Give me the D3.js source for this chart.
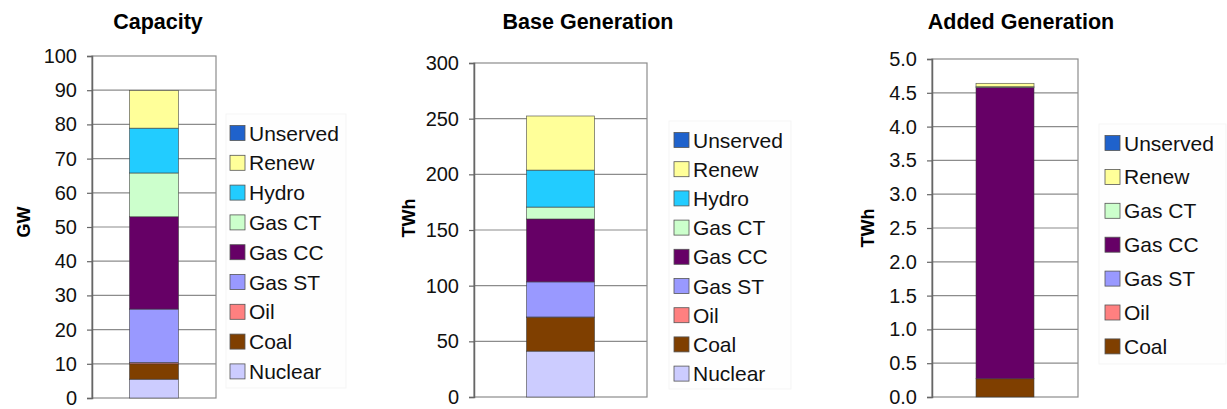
<!DOCTYPE html>
<html>
<head>
<meta charset="utf-8">
<script src="https://cdn.jsdelivr.net/npm/d3@7"></script>
<style>
  body { margin: 0; background: #fff; }
  text { font-family: "Liberation Sans", Arial, sans-serif; }
</style>
</head>
<body>
<svg id="chart" width="1227" height="409"></svg>
<script>
// stack order, bottom to top
var seriesNames = ["Nuclear", "Coal", "Oil", "Gas ST", "Gas CC", "Gas CT", "Hydro", "Renew", "Unserved"];
var seriesColors = ["#ccccff", "#7f3f00", "#ff8080", "#9999ff", "#660066", "#ccffcc", "#22ccff", "#ffff99", "#1f62cc"];

var capacityGW   = [5.5, 4.5, 0.4, 15.6, 27.0, 12.8, 13.1, 11.0, 0];
var baseGenTWh   = [41.2, 30.4, 0.3, 31.5, 56.5, 10.7, 33.2, 48.6, 0];
var addedGenTWh  = [0, 0.27, 0, 0, 4.31, 0.01, 0, 0.05, 0];

var capTicks   = [0, 10, 20, 30, 40, 50, 60, 70, 80, 90, 100];
var baseTicks  = [0, 50, 100, 150, 200, 250, 300];
var addedTicks = [0, 0.5, 1.0, 1.5, 2.0, 2.5, 3.0, 3.5, 4.0, 4.5, 5.0];

var legendFull  = ["Unserved", "Renew", "Hydro", "Gas CT", "Gas CC", "Gas ST", "Oil", "Coal", "Nuclear"];
var legendAdded = ["Unserved", "Renew", "Gas CT", "Gas CC", "Gas ST", "Oil", "Coal"];

var panels = [
  {title: "Capacity", unit: "GW", values: capacityGW, ticks: capTicks, fmt: d3.format("d"), legend: legendFull,
   x0: 92, x1: 216, y0: 56, y1: 398, barW: 49, titleX: 158, unitX: 24, unitY: 222,
   legX: 230, legY: 133, legStep: 29.8, box: [226, 114, 120, 274]},
  {title: "Base Generation", unit: "TWh", values: baseGenTWh, ticks: baseTicks, fmt: d3.format("d"), legend: legendFull,
   x0: 474, x1: 647, y0: 63, y1: 397, barW: 68, titleX: 588, unitX: 409, unitY: 218,
   legX: 674, legY: 140, legStep: 29.2, box: [669, 121, 122, 268]},
  {title: "Added Generation", unit: "TWh", values: addedGenTWh, ticks: addedTicks, fmt: d3.format(".1f"), legend: legendAdded,
   x0: 932, x1: 1078, y0: 59, y1: 397, barW: 58, titleX: 1021, unitX: 868, unitY: 228,
   legX: 1105, legY: 143, legStep: 33.9, box: [1099, 124, 127, 240]}
];

var svg = d3.select("#chart");

panels.forEach(function(p){
  var g = svg.append("g");
  var y = d3.scaleLinear()
    .domain([p.ticks[0], p.ticks[p.ticks.length - 1]])
    .range([p.y1, p.y0]);
  var x = d3.scaleBand().domain(["bar"]).range([p.x0, p.x1]).paddingInner(0)
    .paddingOuter((p.x1 - p.x0 - p.barW) / 2 / p.barW);

  // plot frame + gridlines
  g.append("rect")
    .attr("x", p.x0).attr("y", p.y0)
    .attr("width", p.x1 - p.x0).attr("height", p.y1 - p.y0)
    .attr("fill", "#fff").attr("stroke", "#8c8c8c").attr("stroke-width", 1.2);

  g.selectAll(".grid").data(p.ticks.slice(1, -1)).enter().append("line")
    .attr("x1", p.x0).attr("x2", p.x1)
    .attr("y1", function(d){ return y(d); }).attr("y2", function(d){ return y(d); })
    .attr("stroke", "#8c8c8c").attr("stroke-width", 1.2);

  // stacked bar
  var stackData = {};
  seriesNames.forEach(function(s, i){ stackData[s] = p.values[i]; });
  var stacked = d3.stack().keys(seriesNames)([stackData]);

  g.selectAll(".seg").data(stacked.filter(function(s){ return s[0][1] - s[0][0] > 0; }))
    .enter().append("rect")
    .attr("x", x("bar")).attr("width", x.bandwidth())
    .attr("y", function(s){ return y(s[0][1]); })
    .attr("height", function(s){ return y(s[0][0]) - y(s[0][1]); })
    .attr("fill", function(s){ return seriesColors[seriesNames.indexOf(s.key)]; })
    .attr("stroke", "#3a3a3a").attr("stroke-width", 0.7).attr("stroke-opacity", 0.8);

  // y axis
  var axis = g.append("g")
    .attr("transform", "translate(" + p.x0 + ",0)")
    .call(d3.axisLeft(y).tickValues(p.ticks).tickFormat(p.fmt).tickSize(5).tickPadding(10));
  axis.select(".domain").attr("stroke", "#666").attr("stroke-width", 1.5);
  axis.selectAll(".tick line").attr("stroke", "#666").attr("stroke-width", 1.2);
  axis.selectAll(".tick text")
    .attr("font-size", 20).attr("fill", "#111")
    .attr("font-family", "Liberation Sans, Arial, sans-serif");

  // titles
  g.append("text")
    .attr("x", p.titleX).attr("y", 29)
    .attr("text-anchor", "middle")
    .attr("font-size", 21.5).attr("font-weight", "bold").attr("fill", "#000")
    .text(p.title);

  g.append("text")
    .attr("transform", "translate(" + (p.unitX + 6) + "," + p.unitY + ") rotate(-90)")
    .attr("text-anchor", "middle")
    .attr("font-size", 18).attr("font-weight", "bold").attr("fill", "#000")
    .text(p.unit);

  // legend
  g.append("rect")
    .attr("x", p.box[0]).attr("y", p.box[1]).attr("width", p.box[2]).attr("height", p.box[3])
    .attr("fill", "#fefefe").attr("stroke", "#f5f5f5");

  var leg = g.selectAll(".leg").data(p.legend).enter().append("g")
    .attr("transform", function(d, i){ return "translate(" + p.legX + "," + (p.legY + i * p.legStep) + ")"; });

  leg.append("rect")
    .attr("x", 0).attr("y", -7.5).attr("width", 15).attr("height", 15)
    .attr("fill", function(d){ return seriesColors[seriesNames.indexOf(d)]; })
    .attr("stroke", "#555").attr("stroke-width", 0.8);

  leg.append("text")
    .attr("x", 19).attr("y", 7.5)
    .attr("font-size", 21).attr("fill", "#111")
    .text(function(d){ return d; });
});
</script>
</body>
</html>
